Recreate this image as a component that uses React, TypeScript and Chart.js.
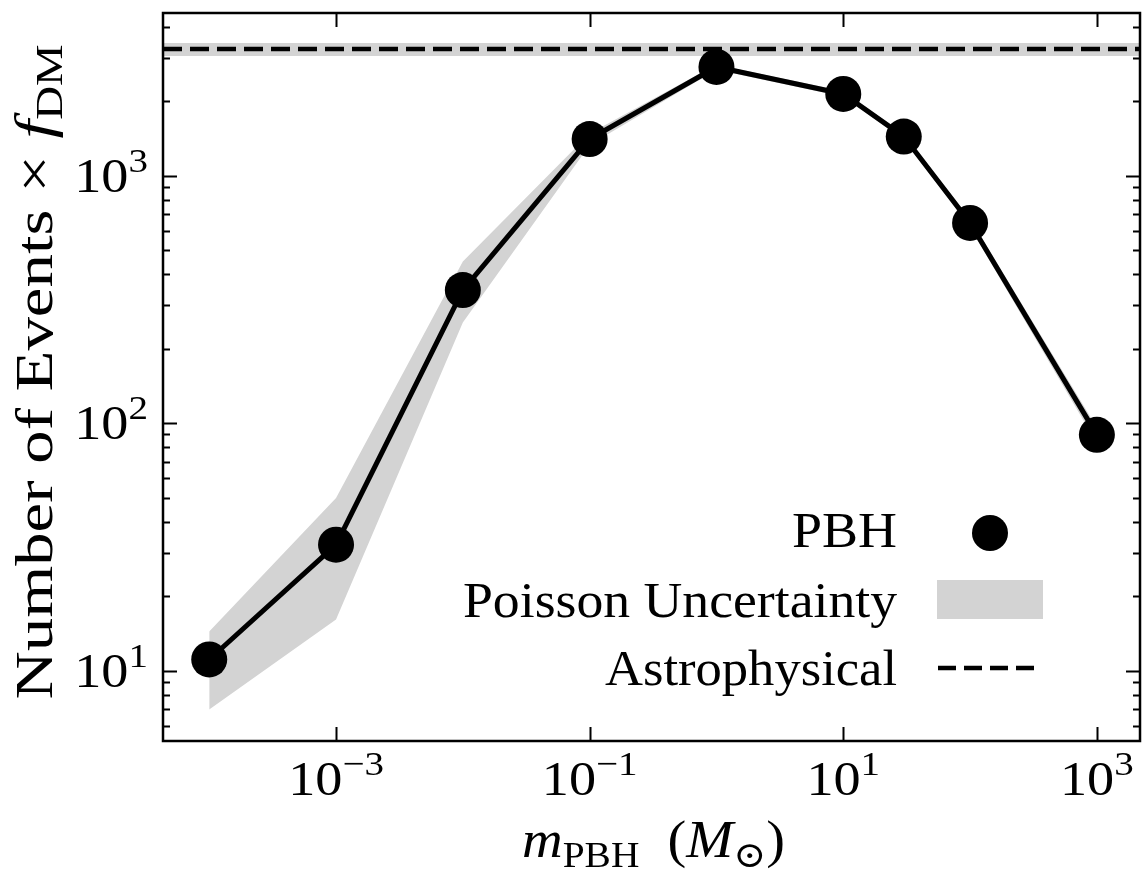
import React, { useEffect, useRef } from "react";
import { Chart, registerables } from "chart.js";

Chart.register(...registerables);

const W = 1143;
const H = 874;
const FONT = '"Liberation Serif", "DejaVu Serif", serif';
const GRAY = "#d3d3d3";

// Axis limits (log scales)
const X_MIN = 4.32e-5;
const X_MAX = 2188;
const Y_MIN = 5.2;
const Y_MAX = 4540;

// PBH mass (solar masses) and expected event counts
const X_VALUES = [1e-4, 1e-3, 1e-2, 1e-1, 1, 10, 30, 100, 1000];
const PBH_EVENTS = [11.1, 32.3, 345, 1406, 2748, 2138, 1438, 644, 89.7];
const POISSON_UPPER = [14.4, 49.9, 450, 1480, 2810, 2190, 1480, 670, 96];
const POISSON_LOWER = [6.97, 16.1, 255, 1330, 2680, 2085, 1395, 618, 83];

// Astrophysical expectation and its band
const ASTRO_EVENTS = 3248;
const ASTRO_UPPER = 3436;
const ASTRO_LOWER = 3041;

// Tick marks and labels
const X_TICKS = [1e-3, 1e-1, 10, 1000];
const X_TICK_EXPONENTS = ["\u22123", "\u22121", "1", "3"];
const Y_TICKS = [10, 100, 1000];
const Y_TICK_EXPONENTS = ["1", "2", "3"];

const LEGEND_LABELS = ["PBH", "Poisson Uncertainty", "Astrophysical"];

type Part = { t: string; italic?: boolean; scale?: number; dy?: number };

function fontFor(p: Part, size: number) {
  const s = size * (p.scale ?? 1);
  return `${p.italic ? "italic " : ""}${s}px ${FONT}`;
}

// Draws a run of text pieces (sub/superscripts, italics) with a horizontal stretch;
// when a width is given the run is stretched to that width.
function drawRich(
  ctx: CanvasRenderingContext2D,
  parts: Part[],
  x: number,
  y: number,
  align: "left" | "center" | "right",
  size: number,
  width?: number,
  stretch = 1.08
) {
  const widths = parts.map((p) => {
    ctx.font = fontFor(p, size);
    return ctx.measureText(p.t).width;
  });
  const natural = widths.reduce((a, b) => a + b, 0);
  const sx = width ? width / natural : stretch;
  const total = natural * sx;
  const start = align === "center" ? x - total / 2 : align === "right" ? x - total : x;
  ctx.save();
  ctx.translate(start, y);
  ctx.scale(sx, 1);
  ctx.textBaseline = "alphabetic";
  ctx.textAlign = "left";
  ctx.fillStyle = "#000";
  let cx = 0;
  parts.forEach((p, i) => {
    ctx.font = fontFor(p, size);
    ctx.fillText(p.t, cx, p.dy ?? 0);
    cx += widths[i];
  });
  ctx.restore();
}

const decorPlugin = {
  id: "decor",
  afterDraw(chart: any) {
    const ctx: CanvasRenderingContext2D = chart.ctx;
    const area = chart.chartArea;
    const xs = chart.scales.x;
    const ys = chart.scales.y;

    ctx.save();
    ctx.strokeStyle = "#000";
    ctx.lineCap = "butt";

    // inward ticks on all four sides
    ctx.lineWidth = 2;
    X_TICKS.forEach((v) => {
      const px = Math.round(xs.getPixelForValue(v)) + 0.5;
      ctx.beginPath();
      ctx.moveTo(px, area.bottom);
      ctx.lineTo(px, area.bottom - 14);
      ctx.moveTo(px, area.top);
      ctx.lineTo(px, area.top + 14);
      ctx.stroke();
    });
    const minExp = Math.floor(Math.log10(Y_MIN));
    const maxExp = Math.ceil(Math.log10(Y_MAX));
    for (let e = minExp; e <= maxExp; e++) {
      for (let m = 1; m <= 9; m++) {
        const v = m * Math.pow(10, e);
        if (v < Y_MIN || v > Y_MAX) continue;
        const len = m === 1 ? 14 : 7;
        const py = Math.round(ys.getPixelForValue(v)) + 0.5;
        ctx.beginPath();
        ctx.moveTo(area.left, py);
        ctx.lineTo(area.left + len, py);
        ctx.moveTo(area.right, py);
        ctx.lineTo(area.right - len, py);
        ctx.stroke();
      }
    }

    // frame
    ctx.lineWidth = 2.5;
    ctx.strokeRect(area.left, area.top, area.right - area.left, area.bottom - area.top);
    ctx.restore();

    const SIZE = 48;
    // x tick labels
    X_TICKS.forEach((v, i) => {
      const px = xs.getPixelForValue(v);
      drawRich(
        ctx,
        [{ t: "10" }, { t: X_TICK_EXPONENTS[i], scale: 0.72, dy: -20 }],
        px,
        795,
        "center",
        SIZE,
        undefined,
        1.13
      );
    });
    // y tick labels
    Y_TICKS.forEach((v, i) => {
      const py = ys.getPixelForValue(v);
      drawRich(
        ctx,
        [{ t: "10" }, { t: Y_TICK_EXPONENTS[i], scale: 0.72, dy: -20 }],
        148,
        py + 16,
        "right",
        SIZE,
        undefined,
        1.13
      );
    });

    // x axis title
    drawRich(
      ctx,
      [
        { t: "m", italic: true },
        { t: "PBH", scale: 0.7, dy: 10 },
        { t: "  (" },
        { t: "M", italic: true },
        { t: "\u2299", scale: 0.7, dy: 10 },
        { t: ")" },
      ],
      (area.left + area.right) / 2 + 2,
      857,
      "center",
      52,
      263
    );

    // y axis title
    ctx.save();
    ctx.translate(52, 372);
    ctx.rotate(-Math.PI / 2);
    drawRich(
      ctx,
      [
        { t: "Number of Events \u00d7 " },
        { t: "f", italic: true },
        { t: "DM", scale: 0.7, dy: 10 },
      ],
      0,
      0,
      "center",
      53,
      655
    );
    ctx.restore();

    // legend: labels right-aligned, handles on the right
    const LSIZE = 50;
    const textRight = 897;
    const handleX = 990;
    const rows = [547, 617, 685];
    drawRich(ctx, [{ t: LEGEND_LABELS[0] }], textRight, rows[0], "right", LSIZE, 105);
    drawRich(ctx, [{ t: LEGEND_LABELS[1] }], textRight, rows[1], "right", LSIZE, 434);
    drawRich(ctx, [{ t: LEGEND_LABELS[2] }], textRight, rows[2], "right", LSIZE, 292);

    ctx.save();
    ctx.fillStyle = "#000";
    ctx.beginPath();
    ctx.arc(handleX, rows[0] - 14, 18, 0, Math.PI * 2);
    ctx.fill();
    ctx.fillStyle = GRAY;
    ctx.fillRect(handleX - 53, rows[1] - 37, 106, 39);
    ctx.strokeStyle = "#000";
    ctx.lineWidth = 4.5;
    ctx.setLineDash([18, 8]);
    ctx.beginPath();
    ctx.moveTo(handleX - 52, rows[2] - 17);
    ctx.lineTo(handleX + 52, rows[2] - 17);
    ctx.stroke();
    ctx.restore();
  },
};

export default function App() {
  const ref = useRef<HTMLCanvasElement | null>(null);

  useEffect(() => {
    if (!ref.current) return;
    const pts = (ys: number[]) => X_VALUES.map((x, i) => ({ x, y: ys[i] }));
    const flat = (y: number) => [
      { x: X_MIN, y },
      { x: X_MAX, y },
    ];

    const chart = new Chart(ref.current, {
      type: "line",
      data: {
        datasets: [
          {
            label: LEGEND_LABELS[0],
            data: pts(PBH_EVENTS),
            borderColor: "#000",
            backgroundColor: "#000",
            borderWidth: 5,
            pointRadius: 18,
            pointBorderWidth: 0,
            pointBackgroundColor: "#000",
            tension: 0,
            fill: false,
          },
          {
            label: LEGEND_LABELS[2],
            data: flat(ASTRO_EVENTS),
            borderColor: "#000",
            borderWidth: 4.5,
            borderDash: [19, 8],
            pointRadius: 0,
            fill: false,
          },
          {
            label: "poisson-upper",
            data: pts(POISSON_UPPER),
            borderWidth: 0,
            pointRadius: 0,
            backgroundColor: GRAY,
            fill: "+1",
          },
          {
            label: "poisson-lower",
            data: pts(POISSON_LOWER),
            borderWidth: 0,
            pointRadius: 0,
            fill: false,
          },
          {
            label: "astro-upper",
            data: flat(ASTRO_UPPER),
            borderWidth: 0,
            pointRadius: 0,
            backgroundColor: GRAY,
            fill: "+1",
          },
          {
            label: "astro-lower",
            data: flat(ASTRO_LOWER),
            borderWidth: 0,
            pointRadius: 0,
            fill: false,
          },
        ],
      },
      options: {
        responsive: false,
        animation: false,
        events: [],
        layout: {
          autoPadding: false,
          padding: { left: 163, right: 3, top: 13, bottom: 133 },
        },
        scales: {
          x: { type: "logarithmic", min: X_MIN, max: X_MAX, display: false },
          y: { type: "logarithmic", min: Y_MIN, max: Y_MAX, display: false },
        },
        plugins: {
          legend: { display: false },
          tooltip: { enabled: false },
        },
      },
      plugins: [decorPlugin],
    });
    return () => chart.destroy();
  }, []);

  return (
    <div style={{ position: "fixed", left: 0, top: 0, width: W, height: H, background: "#fff" }}>
      <canvas ref={ref} width={W} height={H} style={{ width: W, height: H, display: "block" }} />
    </div>
  );
}
